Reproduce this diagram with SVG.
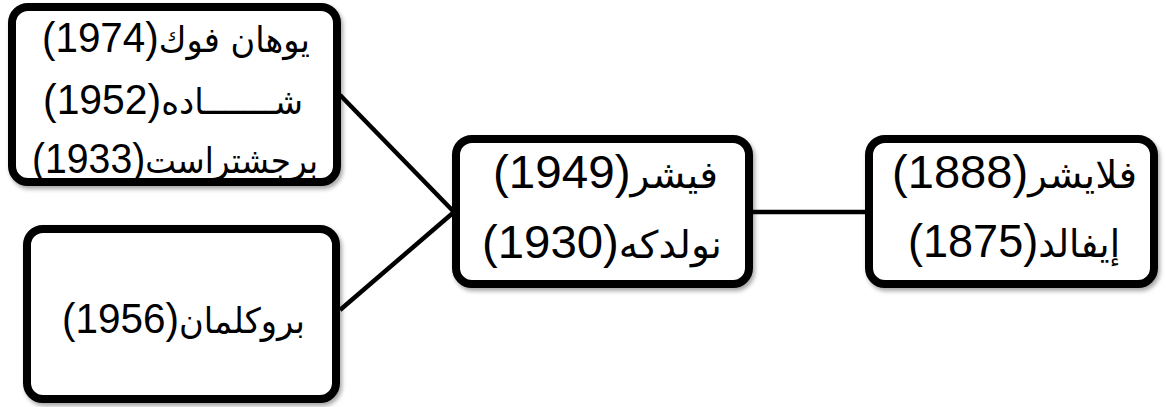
<svg xmlns="http://www.w3.org/2000/svg" width="1166" height="407" viewBox="0 0 1166 407">
<defs>
<filter id="sh" x="-10%" y="-10%" width="120%" height="125%">
<feDropShadow dx="2" dy="3" stdDeviation="2" flood-color="#000" flood-opacity="0.35"/>
</filter>
<style>
.box{fill:#fff;stroke:#000;stroke-width:8;filter:url(#sh)}
.t{font-family:"Liberation Sans",Arial,"DejaVu Sans",sans-serif;font-size:42px;fill:#000;text-anchor:middle;direction:rtl;unicode-bidi:embed}
.ar{font-family:"DejaVu Sans",sans-serif;font-size:35px}
.n{font-family:"Liberation Sans",Arial,sans-serif;font-size:42px}
.big .ar{font-size:38px}
.big .n{font-size:46px}
.c{stroke:#000;stroke-width:4.5;fill:none}
</style>
</defs>
<rect width="1166" height="407" fill="#fff"/>
<g id="connectors">
<line class="c" x1="340" y1="95" x2="454" y2="212"/>
<line class="c" x1="340" y1="310" x2="454" y2="212"/>
<line class="c" x1="752" y1="212" x2="866" y2="212"/>
</g>
<g id="node1">
<rect class="box" x="12" y="7" width="325" height="175" rx="16"/>
<text class="t" x="176" y="52" textLength="268" lengthAdjust="spacingAndGlyphs"><tspan class="ar">يوهان فوك</tspan><tspan class="n">(1974)</tspan></text>
<text class="t" x="173" y="114" textLength="260" lengthAdjust="spacingAndGlyphs"><tspan class="ar">شـــــــاده</tspan><tspan class="n">(1952)</tspan></text>
<text class="t" x="175" y="173" textLength="286" lengthAdjust="spacingAndGlyphs"><tspan class="ar">برجشتراست</tspan><tspan class="n">(1933)</tspan></text>
</g>
<g id="node2">
<rect class="box" x="27" y="229" width="309" height="170" rx="16"/>
<text class="t" x="183.5" y="333" textLength="243" lengthAdjust="spacingAndGlyphs"><tspan class="ar">بروكلمان</tspan><tspan class="n">(1956)</tspan></text>
</g>
<g id="node3" class="big">
<rect class="box" x="456" y="139" width="293" height="145" rx="16"/>
<text class="t" x="605.5" y="188" textLength="225" lengthAdjust="spacingAndGlyphs"><tspan class="ar">فيشر</tspan><tspan class="n">(1949)</tspan></text>
<text class="t" x="602" y="258" textLength="240" lengthAdjust="spacingAndGlyphs"><tspan class="ar">نولدكه</tspan><tspan class="n">(1930)</tspan></text>
</g>
<g id="node4" class="big">
<rect class="box" x="869" y="139" width="285" height="145" rx="16"/>
<text class="t" x="1014.5" y="188" textLength="245" lengthAdjust="spacingAndGlyphs"><tspan class="ar">فلايشر</tspan><tspan class="n">(1888)</tspan></text>
<text class="t" x="1014" y="257" textLength="212" lengthAdjust="spacingAndGlyphs"><tspan class="ar">إيفالد</tspan><tspan class="n">(1875)</tspan></text>
</g>
</svg>
